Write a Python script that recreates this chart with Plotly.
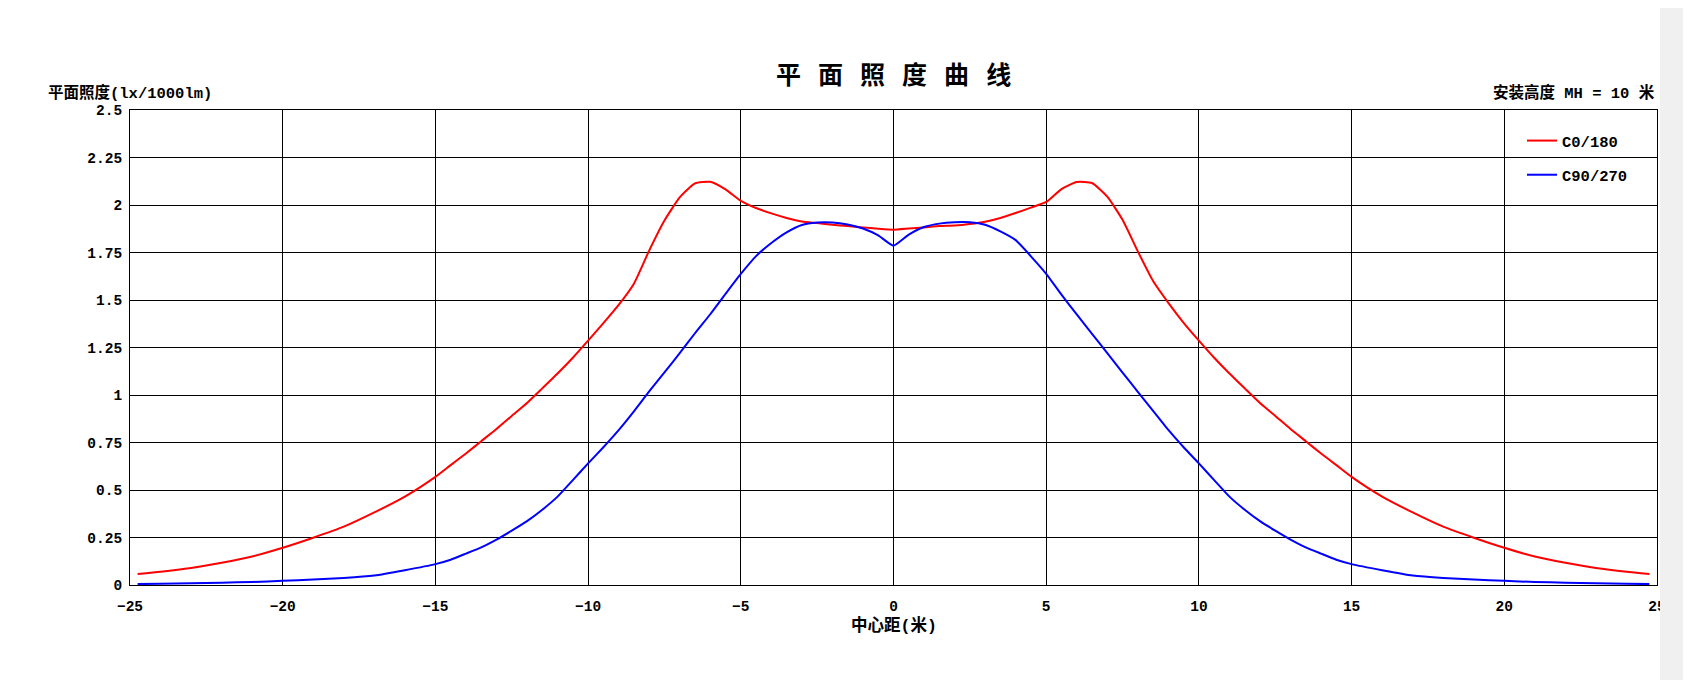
import plotly.graph_objects as go

# distance from centre (m)
x_dist = [-24.75, -24, -23, -22, -21, -20, -19, -18, -17, -16, -15, -14.5, -14, -13.5, -13, -12.5, -12, -11.5, -11,
          -10.5, -10, -9.5, -9, -8.5, -8, -7.5, -7, -6.5, -6, -5.5, -5, -4.5, -4, -3.5,
          -3, -2.5, -2, -1.5, -1, -0.5, 0,
          0.5, 1, 1.5, 2, 2.5, 3, 3.5, 4, 4.5, 5, 5.5, 6, 6.5, 7, 7.5, 8, 8.5, 9, 9.5,
          10, 10.5, 11, 11.5, 12, 12.5, 13, 13.5, 14, 14.5, 15, 16, 17, 18, 19, 20, 21, 22, 23, 24, 24.75]

# C0/180 illuminance (lx/1000lm)
c0_180 = [0.058, 0.070, 0.090, 0.117, 0.150, 0.196, 0.249, 0.307, 0.382, 0.465, 0.569, 0.631, 0.692, 0.757, 0.821, 0.890, 0.958, 1.035, 1.113,
          1.196, 1.286, 1.378, 1.474, 1.586, 1.760, 1.918, 2.040, 2.114, 2.122, 2.082, 2.022, 1.984, 1.956, 1.932,
          1.913, 1.905, 1.896, 1.889, 1.882, 1.875, 1.870,
          1.876, 1.882, 1.889, 1.892, 1.900, 1.912, 1.932, 1.958, 1.986, 2.016, 2.084, 2.121, 2.116, 2.044, 1.922, 1.756, 1.600, 1.485, 1.380,
          1.286, 1.196, 1.113, 1.035, 0.958, 0.890, 0.821, 0.757, 0.692, 0.631, 0.569, 0.465, 0.382, 0.307, 0.249, 0.196, 0.150, 0.117, 0.090, 0.070, 0.058]

# C90/270 illuminance (lx/1000lm)
c90_270 = [0.005, 0.006, 0.009, 0.012, 0.016, 0.022, 0.029, 0.037, 0.050, 0.078, 0.110, 0.133, 0.165, 0.198, 0.239, 0.286, 0.336, 0.396, 0.465,
           0.552, 0.640, 0.725, 0.815, 0.914, 1.019, 1.119, 1.220, 1.325, 1.425, 1.532, 1.637, 1.731, 1.800, 1.856,
           1.895, 1.908, 1.908, 1.897, 1.876, 1.840, 1.786,
           1.844, 1.884, 1.902, 1.909, 1.909, 1.896, 1.861, 1.815, 1.730, 1.638, 1.528, 1.424, 1.322, 1.221, 1.118, 1.017, 0.916, 0.816, 0.725,
           0.640, 0.552, 0.465, 0.396, 0.336, 0.286, 0.239, 0.198, 0.165, 0.133, 0.110, 0.078, 0.050, 0.037, 0.029, 0.022, 0.016, 0.012, 0.009, 0.006, 0.005]

y_tickvals = [0, 0.25, 0.5, 0.75, 1, 1.25, 1.5, 1.75, 2, 2.25, 2.5]
y_ticktext = ["0", "0.25", "0.5", "0.75", "1", "1.25", "1.5", "1.75", "2", "2.25", "2.5"]
x_tickvals = [-25, -20, -15, -10, -5, 0, 5, 10, 15, 20, 25]
x_ticktext = ["\u221225", "\u221220", "\u221215", "\u221210", "\u22125", "0", "5", "10", "15", "20", "25"]

MONO = "Liberation Mono, Noto Sans CJK SC"
CJK = "Noto Sans CJK SC"

fig = go.Figure()
fig.add_trace(go.Scatter(x=x_dist, y=c0_180, mode="lines", name="C0/180",
                         line=dict(color="#ff0000", width=2, shape="spline", smoothing=0.5),
                         legendgroup="a"))
fig.add_trace(go.Scatter(x=x_dist, y=c90_270, mode="lines", name="C90/270",
                         line=dict(color="#0000ff", width=2, shape="spline", smoothing=0.5),
                         legendgroup="b"))

axis_common = dict(showgrid=True, gridcolor="black", gridwidth=1, showline=True,
                   linecolor="black", linewidth=1, mirror=True, zeroline=False,
                   ticks="", tickfont=dict(family=MONO, size=14.5, color="black", weight="bold"))

# the page body adds an 8 px offset; margins compensate so the plot area sits at 130..1657 x 110..585
fig.update_layout(
    width=1691, height=680, autosize=False,
    margin=dict(l=122, r=42, t=102, b=103),
    paper_bgcolor="white", plot_bgcolor="white",
    xaxis=dict(range=[-25, 25], tickvals=x_tickvals, ticktext=x_ticktext,
               ticklabelstandoff=8, **axis_common),
    yaxis=dict(range=[0, 2.5], tickvals=y_tickvals, ticktext=y_ticktext,
               ticklabelstandoff=4, **axis_common),
    showlegend=True,
    legend=dict(x=(1522 - 130) / 1527, y=(585 - 124) / 475, xanchor="left", yanchor="top",
                bgcolor="rgba(0,0,0,0)", borderwidth=0, tracegroupgap=11,
                traceorder="grouped",
                font=dict(family=MONO, size=15.5, color="black", weight="bold")),
    annotations=[
        dict(text="平\u00a0\u00a0\u00a0面\u00a0\u00a0\u00a0照\u00a0\u00a0\u00a0度\u00a0\u00a0\u00a0曲\u00a0\u00a0\u00a0线",
             xref="paper", yref="paper", x=0.5, y=(585 - 73) / 475,
             xanchor="center", yanchor="middle", showarrow=False,
             font=dict(family=CJK, size=25, color="black", weight="bold")),
        dict(text="平面照度(lx/1000lm)", xref="paper", yref="paper",
             x=(46 - 130) / 1527, y=(585 - 93) / 475, xanchor="left", yanchor="middle",
             showarrow=False, font=dict(family=MONO, size=15.5, color="black", weight="bold")),
        dict(text="安装高度 MH = 10 米", xref="paper", yref="paper",
             x=1.0, y=(585 - 93) / 475, xanchor="right", yanchor="middle",
             showarrow=False, font=dict(family=MONO, size=15.5, color="black", weight="bold")),
        dict(text="中心距(米)", xref="paper", yref="paper",
             x=0.5, y=(585 - 626) / 475, xanchor="center", yanchor="middle",
             showarrow=False, font=dict(family=MONO, size=16.5, color="black", weight="bold")),
    ],
    shapes=[
        dict(type="rect", xref="paper", yref="paper",
             x0=(1660 - 130) / 1527, x1=(1720 - 130) / 1527,
             y0=-0.3, y1=1.3, fillcolor="#f0f0f0", line=dict(width=0), layer="above"),
    ],
)

fig.write_html("out.html")
